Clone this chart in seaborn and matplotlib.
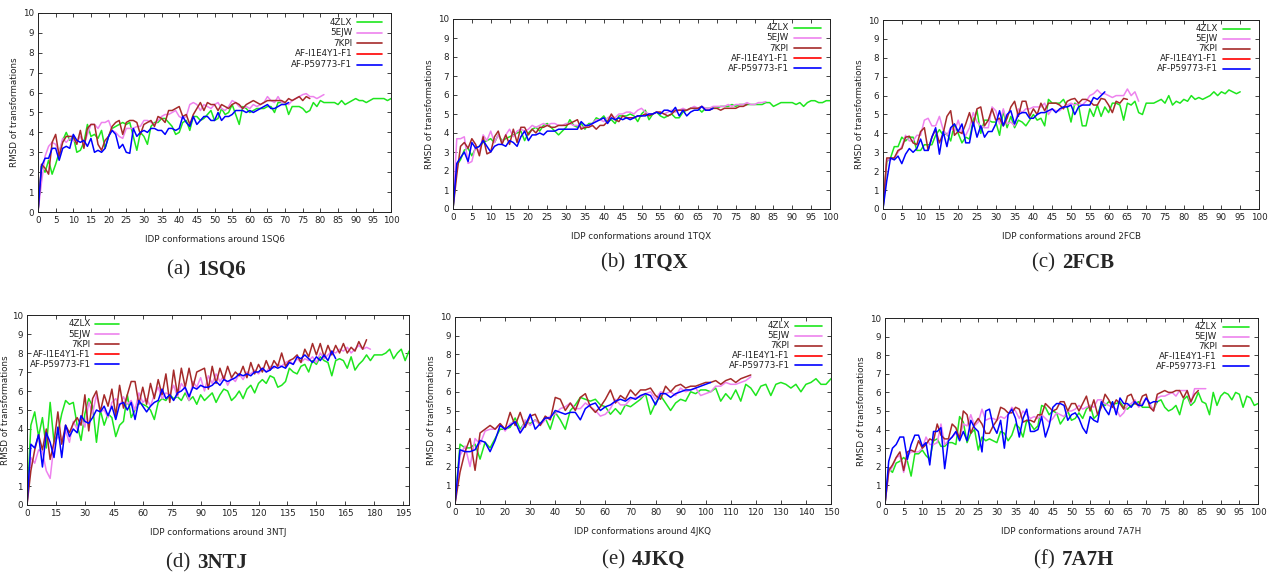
import numpy as np
import matplotlib
matplotlib.use("Agg")
import matplotlib.pyplot as plt
import seaborn as sns

sns.set_style("ticks")
plt.rcParams['font.family'] = ['DejaVu Sans']

names = ['4ZLX', '5EJW', '7KPI', 'AF-I1E4Y1-F1', 'AF-P59773-F1']
colors = ['#1ee61e', '#ee82ee', '#a52a2a', '#ff0000', '#0000ff']

# ---- (a) 1SQ6, one value per conformation
sq6_4zlx = [0, 2.3, 2.0, 2.6, 1.9, 2.4, 3.0, 3.6, 4.0, 3.6, 3.8, 3.0, 3.1, 3.5, 4.4, 3.8, 3.9, 3.7, 4.1, 3.2,
            3.8, 4.2, 4.3, 4.4, 4.5, 4.4, 4.5, 3.8, 3.1, 4.0, 3.8, 3.4, 4.3, 4.5, 4.5, 4.7, 4.7, 4.5, 4.3, 3.9,
            4.0, 4.5, 4.6, 4.1, 4.8, 4.8, 4.6, 4.7, 4.9, 5.1, 4.6, 4.7, 5.2, 4.9, 5.0, 5.4, 4.9, 4.4, 5.3, 5.2,
            5.0, 5.1, 5.2, 5.2, 5.2, 5.3, 5.3, 5.0, 5.5, 5.5, 5.5, 4.9, 5.3, 5.3, 5.3, 5.2, 5.0, 5.1, 5.5, 5.3,
            5.6, 5.5, 5.5, 5.5, 5.5, 5.4, 5.6, 5.4, 5.5, 5.6, 5.7, 5.6, 5.6, 5.5, 5.6, 5.7, 5.7, 5.7, 5.7, 5.6, 5.7]
sq6_5ejw = [0, 1.5, 2.8, 3.3, 3.5, 3.4, 3.0, 3.7, 3.5, 3.7, 3.6, 3.5, 3.8, 3.4, 3.9, 4.4, 4.4, 4.2, 4.5, 4.5,
            4.6, 4.1, 4.0, 3.8, 3.7, 4.2, 4.2, 4.2, 4.3, 4.3, 4.6, 4.6, 4.5, 4.4, 4.6, 4.8, 4.9, 4.9, 5.0, 5.1,
            4.8, 4.7, 4.8, 5.4, 5.5, 5.4, 5.1, 5.4, 5.3, 5.2, 5.4, 5.5, 5.2, 5.1, 5.3, 5.6, 5.5, 5.3, 5.2, 5.3,
            5.2, 5.4, 5.3, 5.4, 5.5, 5.8, 5.6, 5.5, 5.8, 5.5, 5.5, 5.4, 5.6, 5.7, 5.8, 5.9, 5.95, 5.8, 5.8, 5.7,
            5.8, 5.9]
sq6_7kpi = [0, 2.4, 2.2, 1.9, 3.5, 3.9, 2.8, 3.5, 3.8, 3.8, 3.8, 3.4, 4.1, 3.2, 4.2, 4.4, 4.4, 3.4, 3.1, 3.6,
            3.8, 4.3, 4.5, 4.6, 3.9, 4.5, 4.6, 4.6, 4.5, 3.9, 4.4, 4.5, 4.6, 4.3, 4.8, 4.7, 4.5, 5.1, 5.1, 5.2,
            5.3, 4.8, 4.9, 4.4, 4.9, 5.2, 5.5, 5.1, 5.5, 5.4, 5.4, 5.1, 5.4, 5.3, 5.2, 5.4, 5.5, 5.4, 5.2, 5.4,
            5.5, 5.6, 5.5, 5.4, 5.5, 5.6, 5.6, 5.6, 5.6, 5.6, 5.5, 5.7, 5.6, 5.7, 5.8, 5.6, 5.8, 5.7]
sq6_p59773 = [0, 2.3, 2.7, 2.7, 3.2, 3.2, 2.6, 3.2, 3.3, 3.2, 3.9, 3.6, 3.5, 3.6, 3.3, 3.7, 3.0, 3.1, 3.0, 3.2,
              3.8, 4.1, 3.9, 3.2, 3.4, 3.0, 2.95, 4.2, 3.8, 4.0, 4.1, 4.0, 4.2, 4.2, 4.1, 4.1, 3.9, 4.2, 4.2, 4.1,
              4.2, 4.8, 4.5, 4.3, 4.8, 4.4, 4.6, 4.8, 4.8, 4.6, 4.6, 5.0, 4.6, 4.8, 4.8, 4.9, 5.1, 5.1, 5.1, 5.0,
              5.1, 5.0, 5.1, 5.2, 5.3, 5.4, 5.2, 5.2, 5.3, 5.4, 5.4, 5.5]

# ---- (b) 1TQX
tqx_4zlx = [0, 2.3, 2.6, 3.1, 3.2, 2.8, 3.2, 3.3, 3.5, 3.6, 3.7, 3.5, 3.9, 3.6, 3.7, 3.8, 3.9, 4.0, 4.1, 3.6,
            4.0, 4.2, 4.3, 4.1, 4.4, 4.5, 4.3, 4.1, 3.9, 4.1, 4.3, 4.7, 4.4, 4.3, 4.5, 4.2, 4.5, 4.5, 4.8, 4.7,
            4.9, 4.6, 4.7, 4.5, 4.9, 4.9, 4.9, 5.0, 4.9, 4.6, 5.0, 5.2, 4.7, 5.0, 5.1, 4.9, 4.8, 4.9, 5.0, 4.8,
            4.8, 5.1, 5.2, 5.3, 5.3, 5.3, 5.1, 5.3, 5.3, 5.3, 5.3, 5.4, 5.4, 5.4, 5.5, 5.4, 5.5, 5.5, 5.5, 5.5,
            5.5, 5.5, 5.5, 5.6, 5.6, 5.4, 5.5, 5.6, 5.6, 5.6, 5.6, 5.5, 5.6, 5.4, 5.6, 5.7, 5.7, 5.6, 5.6, 5.7, 5.7]
tqx_5ejw = [0, 3.7, 3.7, 3.8, 2.4, 2.5, 3.3, 3.0, 3.9, 3.6, 4.1, 3.5, 3.9, 3.5, 3.9, 4.2, 3.8, 4.1, 4.2, 4.1,
            4.2, 4.4, 4.3, 4.4, 4.5, 4.4, 4.5, 4.5, 4.4, 4.4, 4.5, 4.5, 4.4, 4.4, 4.3, 4.3, 4.4, 4.5, 4.7, 4.7,
            4.6, 4.8, 4.9, 4.8, 5.0, 5.0, 5.1, 5.1, 5.0, 5.2, 5.3, 5.1, 5.0, 5.0, 5.1, 5.1, 5.0, 5.1, 5.2, 5.1,
            5.2, 5.3, 5.2, 5.3, 5.4, 5.3, 5.4, 5.3, 5.3, 5.4, 5.4, 5.4, 5.4, 5.5, 5.4, 5.5, 5.5, 5.5, 5.6, 5.5,
            5.5, 5.6, 5.6, 5.65]
tqx_7kpi = [0, 1.8, 3.3, 3.5, 3.2, 3.7, 3.4, 2.8, 3.8, 2.9, 3.0, 3.8, 4.1, 3.4, 3.9, 3.4, 4.2, 3.5, 4.3, 4.3,
            3.9, 4.2, 4.0, 4.3, 4.3, 4.4, 4.3, 4.3, 4.4, 4.4, 4.4, 4.5, 4.6, 4.7, 4.2, 4.3, 4.3, 4.4, 4.2, 4.4,
            4.4, 4.6, 5.0, 4.7, 4.6, 4.9, 4.8, 4.8, 4.8, 4.9, 4.9, 5.0, 4.9, 5.0, 5.1, 5.1, 5.0, 4.9, 5.0, 5.2,
            5.2, 5.2, 5.2, 5.3, 5.3, 5.3, 5.4, 5.2, 5.2, 5.3, 5.3, 5.2, 5.3, 5.3, 5.3, 5.3, 5.4, 5.4, 5.5]
tqx_p59773 = [0, 2.4, 2.7, 3.0, 2.5, 3.5, 3.2, 3.3, 3.6, 3.3, 3.0, 3.3, 3.4, 3.4, 3.3, 3.6, 3.5, 3.3, 3.8, 4.1,
              3.6, 3.9, 3.9, 4.0, 3.9, 4.1, 4.1, 4.1, 4.2, 4.2, 4.2, 4.2, 4.2, 4.2, 4.6, 4.4, 4.4, 4.5, 4.6, 4.7,
              4.8, 4.5, 4.8, 4.7, 4.8, 4.7, 4.8, 4.7, 4.8, 4.9, 4.9, 4.9, 5.0, 5.0, 5.1, 5.0, 5.2, 5.2, 5.1, 5.35,
              4.9, 5.2, 4.9, 5.1, 5.2, 5.2, 5.4, 5.2, 5.2, 5.3]

# ---- (c) 2FCB
fcb_4zlx = [0, 2.5, 2.7, 3.3, 3.3, 3.8, 3.6, 3.8, 3.8, 3.1, 3.1, 3.4, 3.4, 3.4, 3.9, 4.2, 3.9, 4.0, 3.6, 4.5,
            4.0, 3.5, 3.8, 3.7, 4.7, 5.2, 4.0, 4.7, 4.7, 4.6, 4.6, 3.9, 5.2, 4.3, 4.9, 4.3, 4.7, 4.6, 4.4, 4.7,
            5.0, 4.7, 4.8, 4.4, 5.8, 5.6, 5.6, 5.6, 5.8, 5.4, 4.6, 5.6, 5.5, 4.4, 4.4, 5.3, 4.9, 5.5, 4.9, 5.4,
            5.1, 5.6, 5.6, 5.5, 4.7, 5.6, 5.5, 5.7, 5.1, 5.0, 5.6, 5.6, 5.6, 5.7, 5.8, 5.6, 6.0, 5.5, 5.7, 5.6,
            5.8, 5.7, 6.0, 5.8, 5.9, 5.8, 5.9, 6.0, 6.2, 6.0, 6.2, 6.1, 6.3, 6.2, 6.1, 6.2]
fcb_5ejw = [0, 2.6, 2.6, 2.7, 3.0, 3.3, 3.9, 3.6, 3.6, 3.9, 3.9, 4.7, 4.8, 4.4, 4.4, 4.9, 4.2, 3.9, 4.3, 4.1,
            4.7, 4.0, 3.9, 4.3, 5.1, 4.6, 4.4, 4.3, 4.3, 5.4, 5.2, 4.5, 5.3, 4.5, 4.6, 4.4, 5.3, 5.1, 5.3, 5.3,
            5.4, 5.4, 5.4, 5.6, 5.0, 5.3, 5.2, 5.2, 5.4, 5.5, 5.6, 5.5, 5.6, 5.5, 5.7, 6.0, 6.1, 6.3, 6.1, 6.1,
            6.0, 5.9, 6.0, 6.0, 6.0, 6.35, 6.0, 6.2, 5.7]
fcb_7kpi = [0, 2.7, 2.7, 2.7, 3.1, 3.2, 3.8, 3.85, 3.5, 3.4, 4.1, 4.3, 3.1, 3.8, 4.2, 3.5, 4.0, 4.9, 5.2, 3.9,
            4.1, 4.0, 4.5, 5.1, 4.4, 5.3, 5.4, 4.4, 4.7, 5.3, 4.7, 4.8, 4.4, 4.8, 5.4, 5.7, 4.9, 5.7, 5.7, 4.9,
            5.3, 5.0, 5.6, 5.2, 5.6, 5.6, 5.6, 5.5, 5.3, 5.7, 5.8, 5.85, 5.6, 5.8, 5.8, 5.7, 5.5, 5.5, 5.85, 5.8,
            5.5, 5.1, 5.7, 5.6, 5.85, 5.8]
fcb_p59773 = [0, 1.5, 2.7, 2.6, 2.8, 2.4, 2.9, 3.2, 3.0, 3.2, 3.7, 3.1, 3.1, 3.8, 4.3, 2.9, 4.1, 3.3, 4.3, 4.5,
              4.1, 4.5, 3.5, 3.5, 4.6, 3.8, 4.4, 3.8, 4.1, 4.1, 4.5, 5.2, 4.4, 5.0, 5.2, 4.5, 5.0, 5.1, 5.1, 4.8,
              4.8, 5.0, 5.1, 5.1, 5.2, 5.3, 5.1, 5.3, 5.4, 5.4, 5.5, 5.0, 5.4, 5.5, 5.5, 5.5, 5.9, 5.8, 6.0, 6.2]

# ---- (d) 3NTJ, every second conformation
ntj_4zlx = [0, 4.2, 4.9, 3.6, 4.6, 3.0, 5.4, 3.3, 3.8, 4.8, 5.5, 5.3, 5.4, 4.2, 3.4, 4.8, 5.6, 5.2, 3.3, 5.0,
            4.2, 4.8, 4.6, 3.6, 4.2, 4.4, 5.8, 4.6, 5.0, 5.4, 5.3, 5.2, 5.0, 4.5, 5.4, 5.6, 5.5, 5.8, 5.6, 5.7,
            5.5, 5.9, 5.5, 5.7, 5.3, 5.8, 5.5, 5.7, 5.9, 5.4, 5.8, 6.1, 6.0, 5.5, 5.7, 6.0, 5.6, 6.1, 6.3, 5.9,
            6.4, 6.6, 6.4, 6.8, 6.7, 6.2, 6.3, 6.5, 7.2, 7.0, 6.9, 7.3, 7.4, 7.0, 7.6, 7.4, 7.8, 7.6, 7.5, 6.8,
            7.6, 7.7, 7.6, 7.2, 7.8, 7.1, 7.4, 7.6, 7.9, 7.6, 7.9, 7.9, 7.9, 8.0, 8.2, 7.7, 8.0, 8.2, 7.6, 8.1]
ntj_5ejw = [0, 2.5, 2.2, 2.9, 2.8, 1.8, 1.4, 3.2, 3.6, 3.4, 3.9, 3.3, 4.4, 4.0, 4.6, 4.1, 5.4, 4.8, 5.8, 4.9,
            5.0, 4.6, 5.4, 5.6, 5.2, 5.7, 5.3, 5.5, 5.0, 5.9, 5.4, 5.6, 5.2, 5.8, 6.2, 5.6, 5.9, 5.8, 6.3, 5.7,
            6.4, 6.1, 5.5, 6.5, 6.2, 6.7, 6.0, 6.8, 6.4, 6.9, 6.5, 6.8, 6.3, 6.7, 6.5, 6.9, 6.6, 7.0, 6.9, 7.1,
            6.9, 7.2, 7.0, 7.3, 7.2, 7.4, 7.3, 7.5, 7.6, 7.4, 7.7, 7.5, 7.7, 7.6, 7.8, 7.5, 8.0, 7.7, 7.9, 8.1,
            8.0, 8.2, 8.1, 8.3, 8.0, 8.2, 8.4, 8.2, 8.3, 8.2]
ntj_7kpi = [0, 1.8, 2.9, 3.7, 2.9, 4.0, 2.4, 3.3, 4.9, 3.2, 4.2, 3.8, 4.3, 4.6, 4.2, 5.8, 3.9, 5.6, 6.0, 4.9,
            5.8, 5.2, 6.1, 4.7, 6.3, 5.1, 5.8, 6.5, 6.5, 5.3, 6.2, 5.3, 6.4, 5.6, 6.6, 5.8, 6.9, 5.4, 7.1, 5.8,
            7.2, 6.2, 7.2, 6.2, 7.0, 7.1, 7.2, 6.1, 7.3, 6.4, 7.2, 6.6, 7.3, 6.7, 7.0, 6.8, 7.3, 6.7, 7.5, 6.9,
            7.4, 7.0, 7.6, 7.1, 7.6, 7.3, 8.0, 7.3, 7.6, 7.7, 7.9, 7.5, 8.2, 7.8, 8.5, 7.9, 8.5, 7.8, 8.4, 7.9,
            8.4, 8.0, 8.5, 8.0, 8.3, 8.1, 8.6, 8.2, 8.7]
ntj_p59773 = [0, 3.2, 3.0, 3.7, 2.0, 3.8, 3.3, 2.5, 4.1, 2.5, 4.2, 3.6, 4.0, 3.8, 4.7, 4.4, 4.3, 4.6, 5.0, 4.9,
              5.2, 4.7, 5.2, 4.5, 5.3, 5.4, 5.0, 5.4, 4.5, 5.5, 5.2, 4.9, 5.2, 5.4, 5.5, 6.1, 5.6, 5.8, 5.5, 5.9,
              6.0, 6.2, 5.7, 6.2, 6.1, 6.3, 6.2, 6.2, 6.3, 6.5, 6.3, 6.6, 6.5, 6.6, 6.7, 6.9, 6.8, 6.9, 6.8, 7.0,
              7.0, 7.2, 7.0, 7.1, 7.3, 7.2, 7.3, 7.2, 7.5, 7.4, 7.8, 7.7, 7.9, 7.7, 7.5, 7.8, 7.6, 7.9, 7.6, 8.1,
              7.7]

# ---- (e) 4JKQ, every second conformation
jkq_4zlx = [0, 3.2, 3.0, 3.0, 3.2, 2.4, 3.3, 3.0, 3.5, 4.0, 4.0, 4.1, 4.6, 4.0, 4.4, 4.3, 4.5, 4.3, 4.6, 4.0,
            4.9, 4.5, 4.0, 5.0, 5.3, 5.7, 5.6, 5.5, 5.6, 5.3, 5.2, 4.8, 5.1, 4.8, 5.3, 5.2, 5.4, 5.6, 5.9, 4.8,
            5.4, 5.8, 5.4, 5.0, 5.4, 5.6, 5.5, 6.0, 5.9, 6.1, 6.1, 6.0, 6.2, 5.5, 5.9, 5.6, 6.1, 5.5, 6.4, 6.2,
            5.8, 6.3, 6.4, 5.8, 6.4, 6.5, 6.4, 6.2, 6.4, 6.0, 6.4, 6.5, 6.7, 6.4, 6.4, 6.7]
jkq_5ejw = [0, 2.6, 3.1, 2.0, 3.5, 3.2, 3.9, 4.0, 4.0, 4.3, 3.9, 4.3, 4.4, 3.8, 4.5, 4.2, 4.5, 4.2, 4.5, 4.7,
            4.8, 5.1, 5.2, 5.4, 5.1, 5.1, 5.4, 5.2, 5.0, 4.7, 4.8, 5.1, 5.6, 5.3, 5.3, 5.6, 5.7, 5.7, 5.9, 6.0,
            5.6, 6.0, 5.9, 6.0, 5.8, 6.2, 6.0, 6.1, 6.2, 5.8, 5.9, 6.0, 6.3, 6.3, 6.5, 6.4, 6.4, 6.5, 6.6, 6.8]
jkq_7kpi = [0, 1.7, 2.8, 3.5, 1.8, 3.8, 4.0, 4.2, 4.0, 4.3, 4.0, 4.9, 4.2, 4.9, 4.1, 4.7, 4.8, 4.2, 4.7, 4.5,
            5.7, 5.6, 5.0, 5.4, 5.0, 5.7, 5.9, 5.2, 4.9, 5.2, 5.6, 6.1, 5.4, 5.8, 5.6, 6.1, 5.8, 6.1, 6.1, 6.2,
            5.8, 5.6, 6.3, 6.0, 6.3, 6.4, 6.2, 6.3, 6.3, 6.4, 6.5, 6.5, 6.6, 6.4, 6.6, 6.7, 6.5, 6.7, 6.8, 6.9]
jkq_p59773 = [0, 2.9, 2.8, 2.8, 2.9, 3.4, 3.3, 2.8, 3.4, 4.2, 4.0, 4.2, 4.4, 3.8, 4.2, 4.8, 4.0, 4.3, 4.6, 4.6,
              5.0, 4.9, 4.8, 4.9, 4.9, 4.5, 5.1, 5.3, 5.4, 5.0, 5.2, 5.3, 5.5, 5.6, 5.5, 5.7, 5.6, 5.8, 5.9, 5.8,
              5.3, 5.9, 5.9, 5.7, 5.9, 6.0, 6.1, 6.1, 6.2, 6.3, 6.4, 6.5]

# ---- (f) 7A7H
a7h_4zlx = [0, 1.9, 1.7, 2.2, 2.3, 2.5, 2.3, 1.5, 2.7, 2.7, 2.9, 2.6, 2.4, 3.4, 3.5, 3.1, 3.1, 3.3, 3.3, 3.2,
            4.7, 4.4, 3.3, 3.8, 4.0, 2.9, 3.6, 3.4, 3.5, 3.4, 3.3, 3.9, 3.8, 3.4, 3.7, 4.3, 4.1, 3.6, 4.5, 4.3,
            4.0, 4.2, 5.3, 5.2, 4.8, 5.0, 4.9, 4.3, 4.6, 5.0, 4.5, 4.6, 4.9, 4.6, 5.1, 5.3, 4.6, 4.8, 5.4, 5.3,
            5.5, 5.4, 5.4, 5.5, 5.2, 5.1, 5.3, 5.4, 5.5, 5.2, 5.2, 5.2, 5.1, 5.5, 5.6, 5.2, 5.0, 5.1, 5.3, 4.8,
            5.6, 5.8, 5.3, 5.5, 6.0, 5.5, 5.4, 4.8, 6.0, 5.3, 5.8, 6.0, 5.9, 5.6, 6.0, 5.9, 5.2, 5.8, 5.7, 5.3, 5.4]
a7h_5ejw = [0, 1.7, 2.0, 2.5, 2.6, 1.7, 2.6, 2.8, 2.8, 2.8, 3.0, 3.6, 3.2, 3.2, 3.3, 4.3, 3.2, 3.4, 3.6, 3.8,
            3.6, 4.3, 4.2, 4.8, 4.2, 4.4, 5.1, 4.5, 4.6, 4.6, 4.5, 4.7, 4.6, 4.8, 5.2, 5.0, 4.6, 5.0, 4.8, 4.6,
            4.7, 4.6, 4.8, 4.6, 4.4, 4.6, 4.9, 4.8, 4.7, 5.0, 5.0, 5.1, 5.3, 5.1, 5.2, 5.3, 5.2, 5.6, 5.6, 5.4,
            5.3, 5.2, 5.1, 4.7, 4.9, 5.3, 5.4, 5.6, 5.2, 5.4, 5.7, 5.4, 5.0, 5.7, 5.8, 5.8, 5.9, 6.0, 5.8, 6.1,
            6.1, 6.1, 5.4, 6.2, 6.2, 6.2, 6.2]
a7h_7kpi = [0, 1.8, 2.1, 2.5, 2.8, 1.8, 2.8, 2.9, 2.8, 3.4, 3.0, 3.2, 3.5, 3.4, 4.3, 3.7, 3.5, 3.5, 4.3, 4.1,
            3.5, 5.0, 4.8, 3.8, 4.3, 4.6, 4.3, 3.8, 3.8, 4.2, 4.5, 5.2, 5.1, 4.9, 4.9, 5.2, 5.1, 4.4, 4.5, 4.5,
            4.4, 4.8, 4.8, 5.4, 5.2, 5.0, 5.1, 5.5, 5.5, 5.0, 5.4, 5.4, 5.0, 5.4, 5.8, 5.0, 5.6, 4.8, 5.2, 5.9,
            5.6, 5.2, 5.6, 5.4, 5.1, 5.8, 5.9, 5.4, 5.3, 5.8, 5.9, 5.2, 5.0, 5.9, 6.0, 6.1, 6.0, 6.0, 6.1, 6.1,
            5.7, 6.1, 5.5, 5.9, 6.1]
a7h_p59773 = [0, 2.3, 3.0, 3.2, 3.6, 3.6, 2.4, 3.2, 3.7, 3.7, 3.1, 3.3, 2.1, 3.9, 3.9, 4.1, 1.9, 3.4, 3.6, 3.9,
              3.4, 3.9, 3.4, 4.5, 4.1, 3.9, 2.8, 5.0, 5.1, 4.2, 3.8, 4.5, 3.0, 4.8, 5.1, 4.6, 3.6, 4.6, 5.1, 3.9,
              3.9, 4.0, 4.7, 3.6, 4.2, 5.2, 5.4, 5.4, 5.3, 4.5, 4.8, 4.9, 4.6, 4.1, 3.8, 4.7, 4.5, 4.4, 5.5, 5.1,
              4.8, 5.5, 4.8, 5.7, 5.4, 5.4, 5.2, 5.5, 5.3, 5.3, 5.7, 5.4, 5.5, 5.5]

panels = [
    ('1SQ6', '(a)', [sq6_4zlx, sq6_5ejw, sq6_7kpi, [], sq6_p59773], 1, 100, 5),
    ('1TQX', '(b)', [tqx_4zlx, tqx_5ejw, tqx_7kpi, [], tqx_p59773], 1, 100, 5),
    ('2FCB', '(c)', [fcb_4zlx, fcb_5ejw, fcb_7kpi, [], fcb_p59773], 1, 100, 5),
    ('3NTJ', '(d)', [ntj_4zlx, ntj_5ejw, ntj_7kpi, [], ntj_p59773], 2, 198, 15),
    ('4JKQ', '(e)', [jkq_4zlx, jkq_5ejw, jkq_7kpi, [], jkq_p59773], 2, 150, 10),
    ('7A7H', '(f)', [a7h_4zlx, a7h_5ejw, a7h_7kpi, [], a7h_p59773], 1, 100, 5),
]

# axes boxes in pixels: left, right, top, bottom
boxes = [(38, 391, 13, 212), (453, 830, 19, 209), (883, 1259, 20, 209),
         (27, 409, 315, 505), (455, 831, 317, 504), (885, 1258, 318, 504)]
captions_xy = [(205, 270), (640, 263), (1070, 263), (205, 563), (640, 560), (1070, 560)]

W, H = 1270, 575
fig = plt.figure(figsize=(W / 100, H / 100), dpi=100)

for i, (pdb, tag, series, step, xmax, xstep) in enumerate(panels):
    l, r, t, b = boxes[i]
    ax = fig.add_axes([l / W, 1 - b / H, (r - l) / W, (b - t) / H])
    for vals, c in zip(series, colors):
        if len(vals) == 0:
            continue
        xs = np.arange(len(vals)) * step
        sns.lineplot(x=xs, y=vals, ax=ax, color=c, lw=1.1, estimator=None)
    ax.set_xlim(0, xmax)
    ax.set_ylim(0, 10)
    ax.set_xticks(np.arange(0, xmax + 1, xstep))
    ax.set_yticks(np.arange(0, 11, 1))
    ax.tick_params(direction='in', top=True, right=True, length=3, width=0.6,
                   labelsize=6.3, pad=3, colors='#222222')
    for s in ax.spines.values():
        s.set_linewidth(0.7)
        s.set_color('#222222')
    ax.set_xlabel('IDP conformations around ' + pdb, fontsize=6.3, labelpad=7, color='#222222')
    ax.set_ylabel('RMSD of transformations', fontsize=6.3,
                  labelpad=1 if pdb == '3NTJ' else 3, color='#222222')

    # gnuplot style key: right aligned text followed by a line sample
    if pdb == '3NTJ':
        tx, lx0, lx1 = 0.167, 0.177, 0.24
    else:
        tx, lx0, lx1 = 0.89, 0.905, 0.975
    for k, (nm, c) in enumerate(zip(names, colors)):
        yy = 0.953 - k * 0.053
        ax.text(tx, yy, nm, transform=ax.transAxes, ha='right', va='center',
                fontsize=6.3, color='#222222')
        ax.plot([lx0, lx1], [yy, yy], transform=ax.transAxes, color=c, lw=1.2)

    cx, cy = captions_xy[i]
    fig.text((cx - 10) / W, 1 - cy / H, tag + ' ', ha='right', va='center', fontsize=15,
             family='Liberation Serif')
    fig.text((cx - 8) / W, 1 - cy / H, pdb, ha='left', va='center', fontsize=15,
             family='Liberation Serif', weight='bold')

fig.savefig('out.png', dpi=100)
